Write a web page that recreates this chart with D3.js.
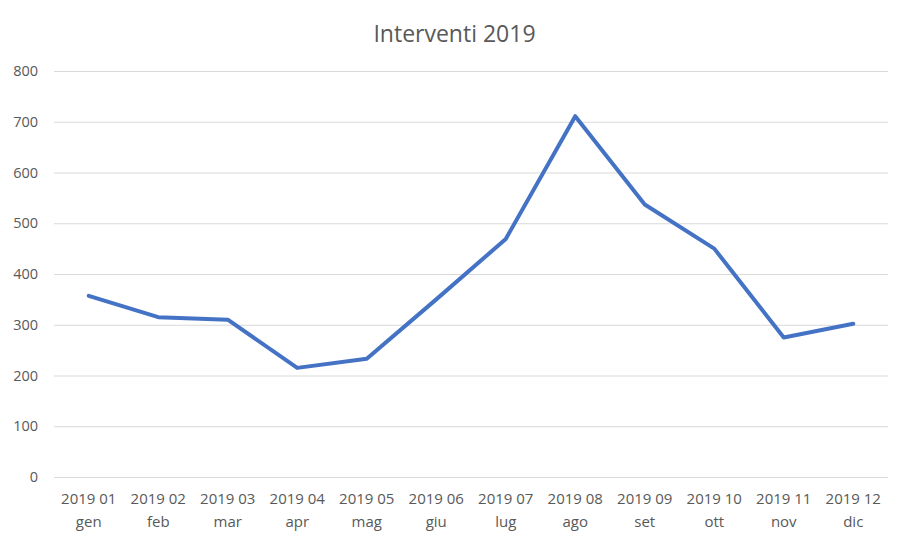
<!DOCTYPE html>
<html>
<head>
<meta charset="utf-8">
<script src="https://cdn.jsdelivr.net/npm/d3@7"></script>
<style>
    body { margin: 0; background: #fff; }
    text { font-family: "Open Sans", sans-serif; fill: #595959; }
</style>
</head>
<body>
<script>
let months = ["2019 01", "2019 02", "2019 03", "2019 04", "2019 05", "2019 06",
              "2019 07", "2019 08", "2019 09", "2019 10", "2019 11", "2019 12"];
let month_names = ["gen", "feb", "mar", "apr", "mag", "giu",
                   "lug", "ago", "set", "ott", "nov", "dic"];
let interventi = [357, 315, 310, 215, 233, 350, 469, 711, 537, 450, 275, 302];
let y_ticks = [0, 100, 200, 300, 400, 500, 600, 700, 800];

function draw_chart(width=909, height=543) {
    let margin = {top: 71, right: 21, bottom: 66, left: 54};

    let svg = d3.select("body").append("svg")
        .attr("width", width)
        .attr("height", height);

    let x = d3.scaleBand()
        .domain(months)
        .range([margin.left, width - margin.right]);

    let y = d3.scaleLinear()
        .domain([0, 800])
        .range([height - margin.bottom, margin.top]);

    svg.append("text")
        .attr("x", width / 2)
        .attr("y", 42)
        .attr("text-anchor", "middle")
        .style("font-size", "23px")
        .text("Interventi 2019");

    // griglia orizzontale + etichette asse y
    let y_axis = svg.append("g")
        .attr("transform", "translate(" + margin.left + ",0)")
        .call(d3.axisLeft(y)
            .tickValues(y_ticks)
            .tickSize(-(width - margin.left - margin.right))
            .tickPadding(16));
    y_axis.select(".domain").remove();
    y_axis.selectAll("line")
        .attr("stroke", "#d9d9d9")
        .attr("stroke-width", 1);
    y_axis.selectAll("text")
        .style("font-size", "14.5px")
        .attr("fill", "#595959");

    // etichette asse x su due righe
    let x_axis = svg.append("g")
        .attr("transform", "translate(0," + (height - margin.bottom) + ")")
        .call(d3.axisBottom(x).tickSize(0).tickPadding(0));
    x_axis.select(".domain").remove();
    x_axis.selectAll("text").remove();
    let labels = x_axis.selectAll(".tick")
        .append("text")
        .attr("text-anchor", "middle")
        .style("font-size", "15px")
        .attr("fill", "#595959");
    labels.append("tspan")
        .attr("x", 0)
        .attr("y", 27)
        .text(d => d);
    labels.append("tspan")
        .attr("x", 0)
        .attr("y", 50)
        .text(d => month_names[months.indexOf(d)]);

    let line = d3.line()
        .x((d, i) => x(months[i]) + x.bandwidth() / 2)
        .y(d => y(d));

    svg.append("path")
        .datum(interventi)
        .attr("fill", "none")
        .attr("stroke", "#4472c4")
        .attr("stroke-width", 4)
        .attr("stroke-linejoin", "round")
        .attr("stroke-linecap", "round")
        .attr("d", line);
}

draw_chart();
</script>
</body>
</html>
